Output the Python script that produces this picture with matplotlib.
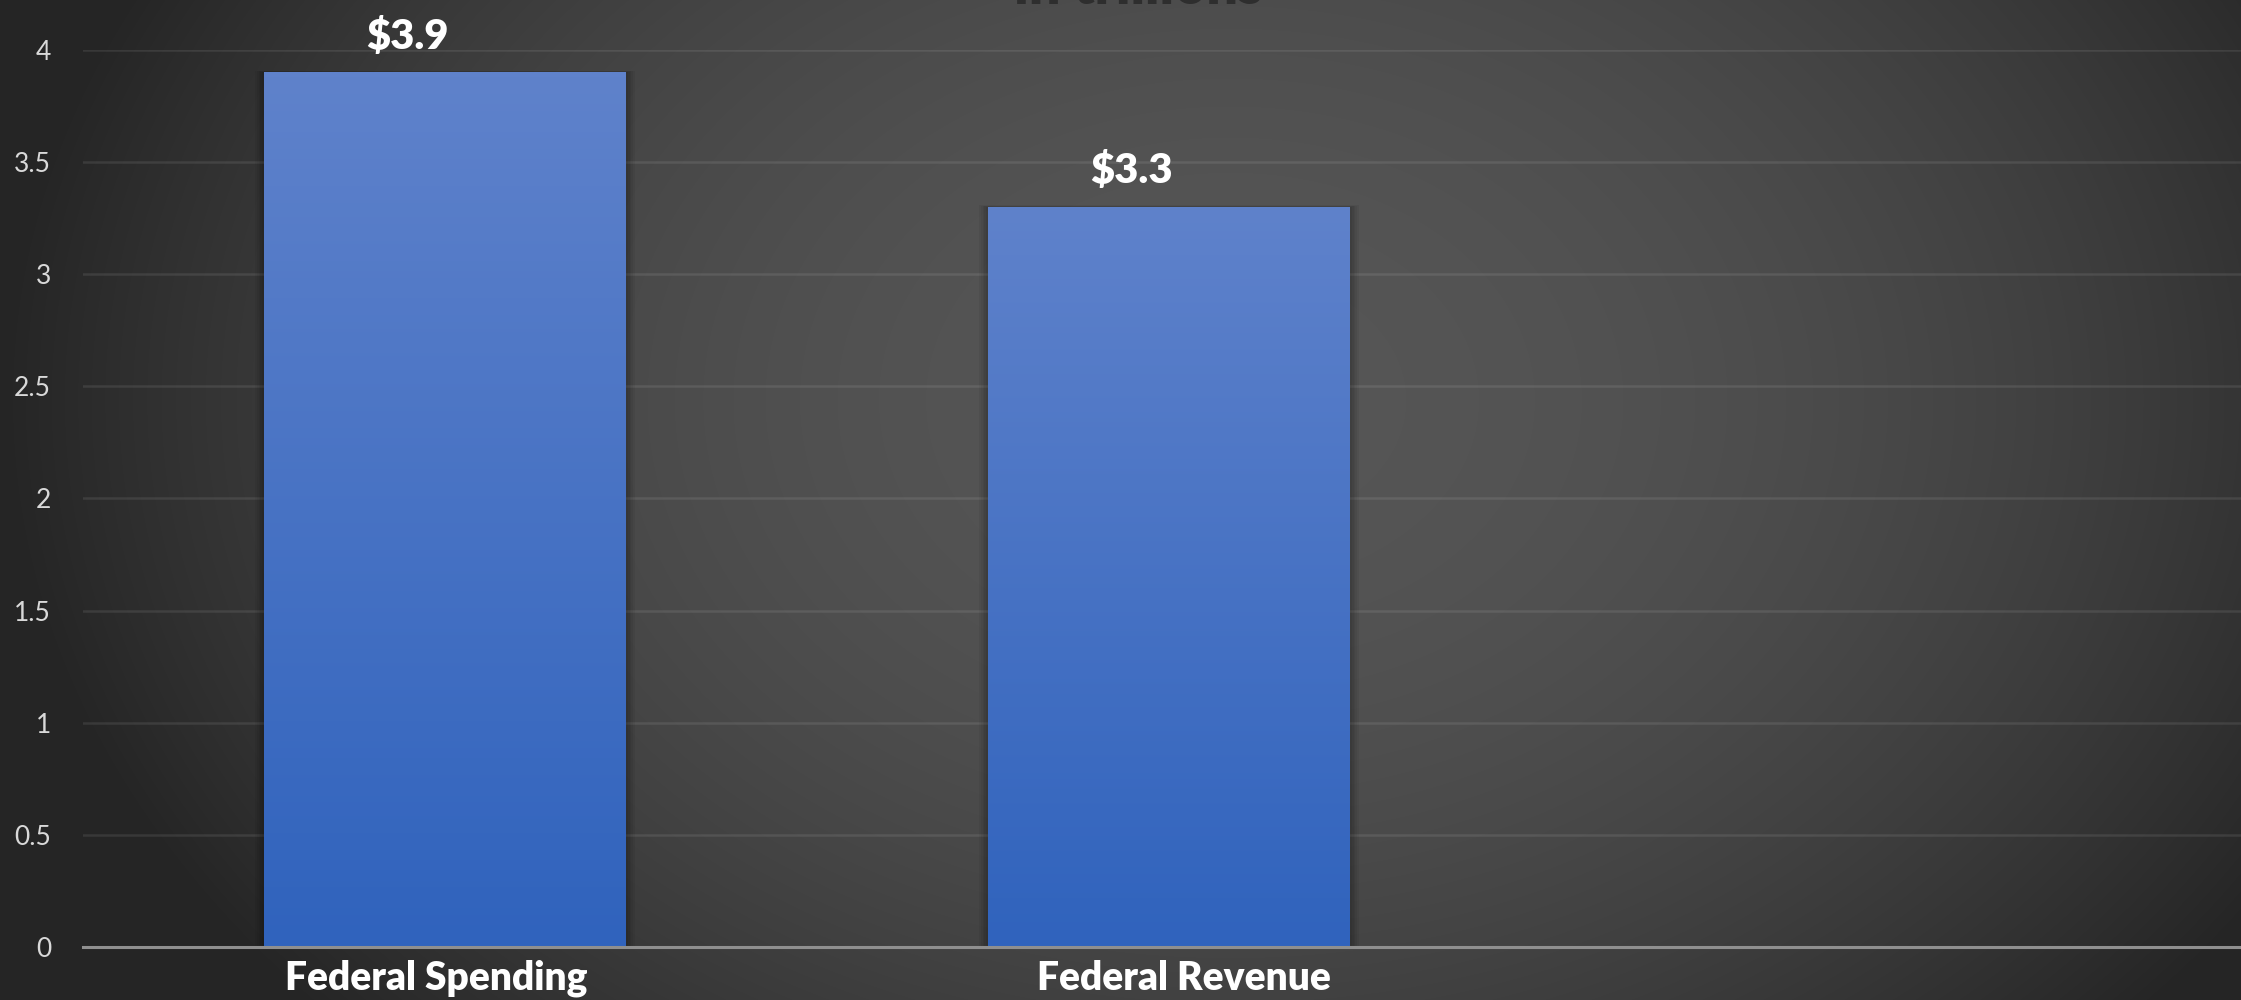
import numpy as np
import matplotlib
matplotlib.use("Agg")
import matplotlib.pyplot as plt
import matplotlib.transforms as mtransforms
from matplotlib.colors import LinearSegmentedColormap
from matplotlib.patches import Rectangle

# ---- data ----
categories = ["Federal Spending", "Federal Revenue"]
values = [3.9, 3.3]
value_labels = ["$3.9", "$3.3"]
yticks = [0, 0.5, 1, 1.5, 2, 2.5, 3, 3.5, 4]
ytick_labels = ["0", "0.5", "1", "1.5", "2", "2.5", "3", "3.5", "4"]
n_slots = 3  # category slots on the axis (third is empty)
title = "in trillions"

plt.rcParams['font.family'] = ['Lato', 'DejaVu Sans']

W, H = 2241, 1000
fig = plt.figure(figsize=(W / 100, H / 100), dpi=100)

# radial gradient background
bg = fig.add_axes([0, 0, 1, 1], zorder=-10)
yy, xx = np.mgrid[0:H, 0:W]
r = np.sqrt(((xx - 1230) / 1230) ** 2 + ((yy - 400) / 920) ** 2)
t = np.clip(r, 0, 1) ** 2
val = (86 - (86 - 37) * t) / 255.0
rgb = np.dstack([val, val, val])
bg.imshow(rgb, extent=[0, 1, 0, 1], aspect='auto', origin='upper',
          interpolation='bilinear')
bg.set_xlim(0, 1)
bg.set_ylim(0, 1)
bg.axis('off')

ax = fig.add_axes([83 / W, 53 / H, 2172 / W, 897 / H])
ax.set_facecolor('none')

x = np.arange(len(categories))
bars = ax.bar(x, values, width=0.5, color='none', edgecolor='none', zorder=2)

cmap = LinearSegmentedColormap.from_list("bar", ["#3063bd", "#5f82cb"])
grad = np.linspace(0, 1, 256).reshape(-1, 1)
for b in bars:
    x0, y0 = b.get_x(), b.get_y()
    w, h = b.get_width(), b.get_height()
    # soft shadow
    for k in range(1, 6):
        d = 0.0025 * k
        ax.add_patch(Rectangle((x0 - d, y0), w + 2 * d, h + d * 0.6,
                               facecolor='black', edgecolor='none',
                               alpha=0.05, zorder=1.5))
    im = ax.imshow(grad, cmap=cmap, extent=[x0, x0 + w, y0, y0 + h],
                   origin='lower', aspect='auto', zorder=2,
                   interpolation='bilinear')
    im.set_clip_path(b)

for b, lbl in zip(bars, value_labels):
    ax.annotate(lbl, xy=(b.get_x() + b.get_width() / 2, b.get_height()),
                xytext=(-27, 17), textcoords='offset points',
                ha='center', va='baseline', color='white',
                fontsize=30, fontweight='heavy', annotation_clip=False)

ax.set_xlim(-0.5, n_slots - 0.5)
ax.set_ylim(0, 4)

ax.set_yticks(yticks, ytick_labels)
ax.set_xticks(x, categories)
ax.tick_params(axis='y', length=0, pad=23, labelcolor='#d9d9d9', labelsize=19)
ax.tick_params(axis='x', length=0, pad=9, labelcolor='white', labelsize=28)
label_shifts_px = [-9, 15]
for lab, dx in zip(ax.get_xticklabels(), label_shifts_px):
    lab.set_fontweight('heavy')
    lab.set_transform(lab.get_transform() +
                      mtransforms.ScaledTranslation(dx / 100, 0, fig.dpi_scale_trans))

ax.yaxis.grid(True, color='white', alpha=0.09, linewidth=1.8)
ax.set_axisbelow(True)
for s in ['top', 'right', 'left']:
    ax.spines[s].set_visible(False)
ax.spines['bottom'].set_color('#8f8f8f')
ax.spines['bottom'].set_linewidth(2.2)
ax.spines['bottom'].set_zorder(5)

fig.text(1138 / W, 1 - 4 / H, title, ha='center', va='baseline',
         fontsize=40, fontweight='heavy', color='#2e2e2e')

fig.savefig("out.png", dpi=100)
